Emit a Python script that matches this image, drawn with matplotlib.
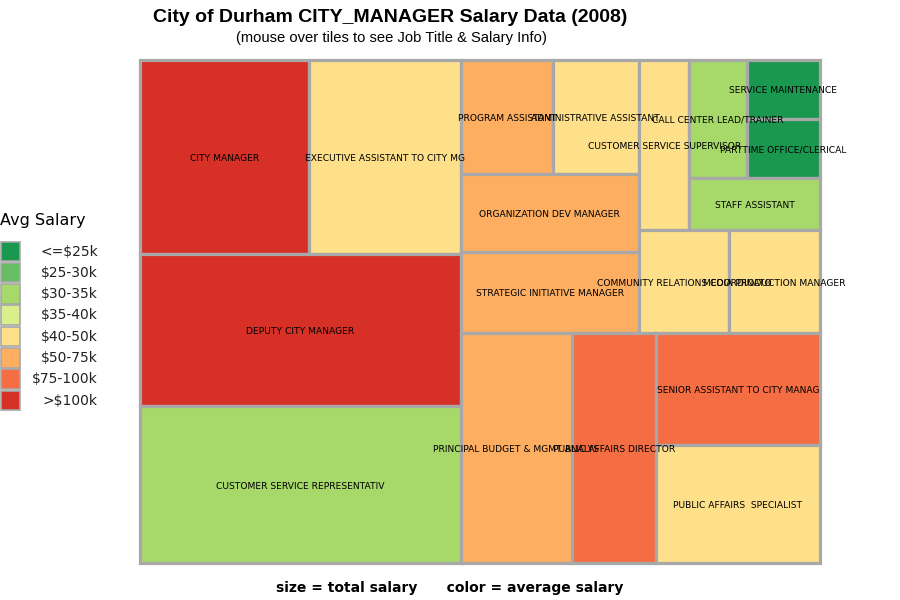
import matplotlib
matplotlib.use('Agg')
import matplotlib.pyplot as plt
from matplotlib.patches import Rectangle
import numpy as np

# job titles (as they appear on the tiles), total salary and average salary in $k
titles = ['CITY MANAGER', 'EXECUTIVE ASSISTANT TO CITY MG', 'DEPUTY CITY MANAGER',
          'CUSTOMER SERVICE REPRESENTATIV', 'PROGRAM ASSISTANT', 'ADMINISTRATIVE ASSISTANT',
          'ORGANIZATION DEV MANAGER', 'STRATEGIC INITIATIVE MANAGER',
          'CUSTOMER SERVICE SUPERVISOR', 'CALL CENTER LEAD/TRAINER', 'SERVICE MAINTENANCE',
          'PARTTIME OFFICE/CLERICAL', 'STAFF ASSISTANT', 'COMMUNITY RELATIONS COORDINATO',
          'MEDIA PRODUCTION MANAGER', 'PRINCIPAL BUDGET & MGMT ANALYS',
          'PUBLIC AFFAIRS DIRECTOR', 'SENIOR ASSISTANT TO CITY MANAG',
          'PUBLIC AFFAIRS  SPECIALIST']
total_salary_k = [190, 171, 283, 292, 61, 57, 80, 84, 50, 39, 25, 25, 40, 54, 54,
                  148, 112, 107, 112]
avg_salary_k = [190, 42.8, 141.5, 32.4, 61, 47, 73, 70, 46, 32, 23, 21, 33, 45, 46,
                58, 95, 89, 44]

bin_edges = [25, 30, 35, 40, 50, 75, 100]
bin_labels = ['<=$25k', '$25-30k', '$30-35k', '$35-40k', '$40-50k', '$50-75k',
              '$75-100k', '>$100k']
bin_colors = ['#1a9850', '#66bd63', '#a6d96a', '#d9ef8b', '#fee08b', '#fdae61',
              '#f46d43', '#d73027']

# grouping of the tiles ('h' = side by side, 'v' = stacked)
tree = ('h', [
    ('v', [('h', [titles[0], titles[1]]), titles[2], titles[3]]),
    ('v', [
        ('h', [
            ('v', [('h', [titles[4], titles[5]]), titles[6], titles[7]]),
            ('v', [
                ('h', [titles[8],
                       ('v', [('h', [titles[9], ('v', [titles[10], titles[11]])]),
                              titles[12]])]),
                ('h', [titles[13], titles[14]]),
            ]),
        ]),
        ('h', [titles[15], titles[16], ('v', [titles[17], titles[18]])]),
    ]),
])

sizes = dict(zip(titles, total_salary_k))


def node_size(node):
    if isinstance(node, str):
        return sizes[node]
    return sum(node_size(c) for c in node[1])


def layout(node, x, y, w, h, out):
    if isinstance(node, str):
        out[node] = (x, y, w, h)
        return
    direction, children = node
    total = node_size(node)
    pos = 0.0
    for c in children:
        frac = node_size(c) / total
        if direction == 'h':
            layout(c, x + pos * w, y, frac * w, h, out)
        else:
            layout(c, x, y + pos * h, w, frac * h, out)
        pos += frac


rects = {}
layout(tree, 0, 0, 1, 1, rects)
color_idx = np.digitize(avg_salary_k, bin_edges, right=True)
gray = '#a8a8a8'

W, H = 900, 600
fig = plt.figure(figsize=(9, 6), dpi=100)
ax = fig.add_axes([140 / W, 1 - 563 / H, 680 / W, 503 / H])
ax.set_xlim(0, 1)
ax.set_ylim(1, 0)
ax.axis('off')

for t, ci in zip(titles, color_idx):
    x, y, w, h = rects[t]
    ax.add_patch(Rectangle((x, y), w, h, facecolor=bin_colors[ci], edgecolor=gray,
                           linewidth=2.3, clip_on=False))
for t in titles:
    x, y, w, h = rects[t]
    ax.text(x + w / 2, y + h / 2 + 0.003, t, ha='center', va='center', fontsize=6.6,
            color='black', clip_on=False, zorder=5)

# legend
lax = fig.add_axes([0, 1 - 420 / H, 140 / W, 220 / H])
lax.set_xlim(0, 140)
lax.set_ylim(420, 200)
lax.axis('off')
lax.text(0, 221, 'Avg Salary', ha='left', va='center', fontsize=11.5)
for i, (lab, col) in enumerate(zip(bin_labels, bin_colors)):
    top = 241.5 + i * 21.3
    lax.add_patch(Rectangle((1, top), 18.5, 19.5, facecolor=col, edgecolor=gray,
                            linewidth=1.2, clip_on=False))
    lax.text(98, top + 10, lab, ha='right', va='center', fontsize=10, color='#222222')

fig.text(390 / W, 1 - 17 / H, 'City of Durham CITY_MANAGER Salary Data (2008)',
         ha='center', va='center', fontsize=14, fontweight='bold',
         family=['Liberation Sans', 'DejaVu Sans'])
fig.text(391 / W, 1 - 38 / H, '(mouse over tiles to see Job Title & Salary Info)',
         ha='center', va='center', fontsize=10.6,
         family=['Liberation Sans', 'DejaVu Sans'])
fig.text(450 / W, 1 - 588 / H, 'size = total salary      color = average salary',
         ha='center', va='center', fontsize=10, fontweight='bold')

fig.savefig('out.png', dpi=100)
